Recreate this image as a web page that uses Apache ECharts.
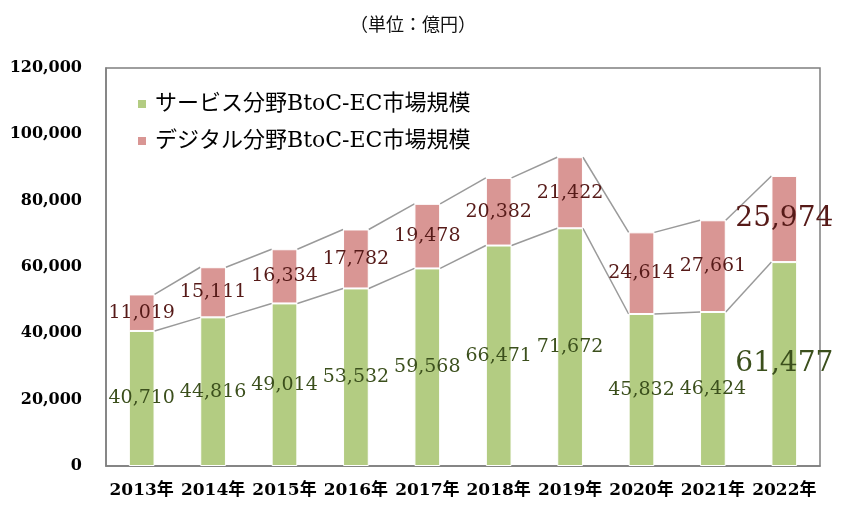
<!DOCTYPE html>
<html>
<head>
<meta charset="utf-8">
<script src="https://cdn.jsdelivr.net/npm/echarts@6/dist/echarts.min.js"></script>
<style>
html,body{margin:0;padding:0;background:#fff;}
#chart{width:864px;height:517px;}
</style>
</head>
<body>
<div id="chart"></div>
<script>
const years = ['2013年','2014年','2015年','2016年','2017年','2018年','2019年','2020年','2021年','2022年'];
const serviceValues = [40710,44816,49014,53532,59568,66471,71672,45832,46424,61477];
const digitalValues = [11019,15111,16334,17782,19478,20382,21422,24614,27661,25974];
const seriesNames = ['サービス分野BtoC-EC市場規模','デジタル分野BtoC-EC市場規模'];
const unitText = '（単位：億円）';

const SERIF = "'DejaVu Serif','Noto Sans CJK JP',serif";
const BAR_FRAC = 0.36;
const totals = serviceValues.map((v,i)=>v+digitalValues[i]);
const connData = [];
for (let i=0;i<years.length-1;i++){
  connData.push([i, serviceValues[i], serviceValues[i+1], totals[i], totals[i+1]]);
}
const fmt = p => Number(p.value).toLocaleString('en-US');
const lastIdx = years.length-1;

const chart = echarts.init(document.getElementById('chart'));
chart.setOption({
  animation:false,
  title:{text:unitText,left:408,top:10,textAlign:'center',
    textStyle:{fontFamily:"'Noto Sans CJK JP'",fontSize:18,fontWeight:'normal',color:'#111'}},
  legend:{
    data:seriesNames, orient:'vertical', left:131, top:87,
    icon:'rect', itemWidth:10, itemHeight:10, itemGap:13,
    textStyle:{fontFamily:SERIF,fontSize:22,color:'#000',lineHeight:24,padding:[0,0,0,3]}
  },
  grid:{left:106,right:44,top:68,bottom:51,show:true,borderColor:'#7f7f7f',borderWidth:1.5,containLabel:false},
  xAxis:{type:'category',data:years,
    axisLine:{show:true,lineStyle:{color:'#7f7f7f',width:1.5}},
    axisTick:{show:false},
    axisLabel:{interval:0,fontFamily:SERIF,fontSize:17,fontWeight:'bold',color:'#000',margin:16}},
  yAxis:{type:'value',min:0,max:120000,interval:20000,
    axisLine:{show:true,lineStyle:{color:'#7f7f7f',width:1.5}},
    axisTick:{show:false},splitLine:{show:false},
    axisLabel:{fontFamily:SERIF,fontSize:16,fontWeight:'bold',color:'#000',margin:24,
      formatter:v=>Number(v).toLocaleString('en-US')}},
  series:[
    {
      type:'custom', name:'conn', z:1, silent:true,
      data:connData,
      encode:{x:0,y:1},
      renderItem:function(params, api){
        const i = api.value(0);
        const hw = api.size([1,0])[0]*BAR_FRAC/2;
        const a1 = api.coord([i, api.value(1)]);
        const a2 = api.coord([i+1, api.value(2)]);
        const b1 = api.coord([i, api.value(3)]);
        const b2 = api.coord([i+1, api.value(4)]);
        const style = {stroke:'#9a9a9a',lineWidth:1.5};
        return {type:'group',children:[
          {type:'line',shape:{x1:a1[0]+hw,y1:a1[1],x2:a2[0]-hw,y2:a2[1]},style:style},
          {type:'line',shape:{x1:b1[0]+hw,y1:b1[1],x2:b2[0]-hw,y2:b2[1]},style:style}
        ]};
      }
    },
    {
      type:'bar', name:seriesNames[0], stack:'s', barWidth:(BAR_FRAC*100)+'%', z:2,
      itemStyle:{color:'#B3CC82',borderColor:'#ffffff',borderWidth:1},
      label:{show:true,position:'inside',fontFamily:SERIF,fontSize:19,color:'#3B4F1C',formatter:fmt},
      data:serviceValues.map((v,i)=> i===lastIdx ? {value:v,label:{fontSize:28}} : v)
    },
    {
      type:'bar', name:seriesNames[1], stack:'s', z:2,
      itemStyle:{color:'#D99694',borderColor:'#ffffff',borderWidth:1},
      label:{show:true,position:'inside',fontFamily:SERIF,fontSize:19,color:'#561A18',formatter:fmt},
      data:digitalValues.map((v,i)=> i===lastIdx ? {value:v,label:{fontSize:28}} : v)
    }
  ]
});
</script>
</body>
</html>
